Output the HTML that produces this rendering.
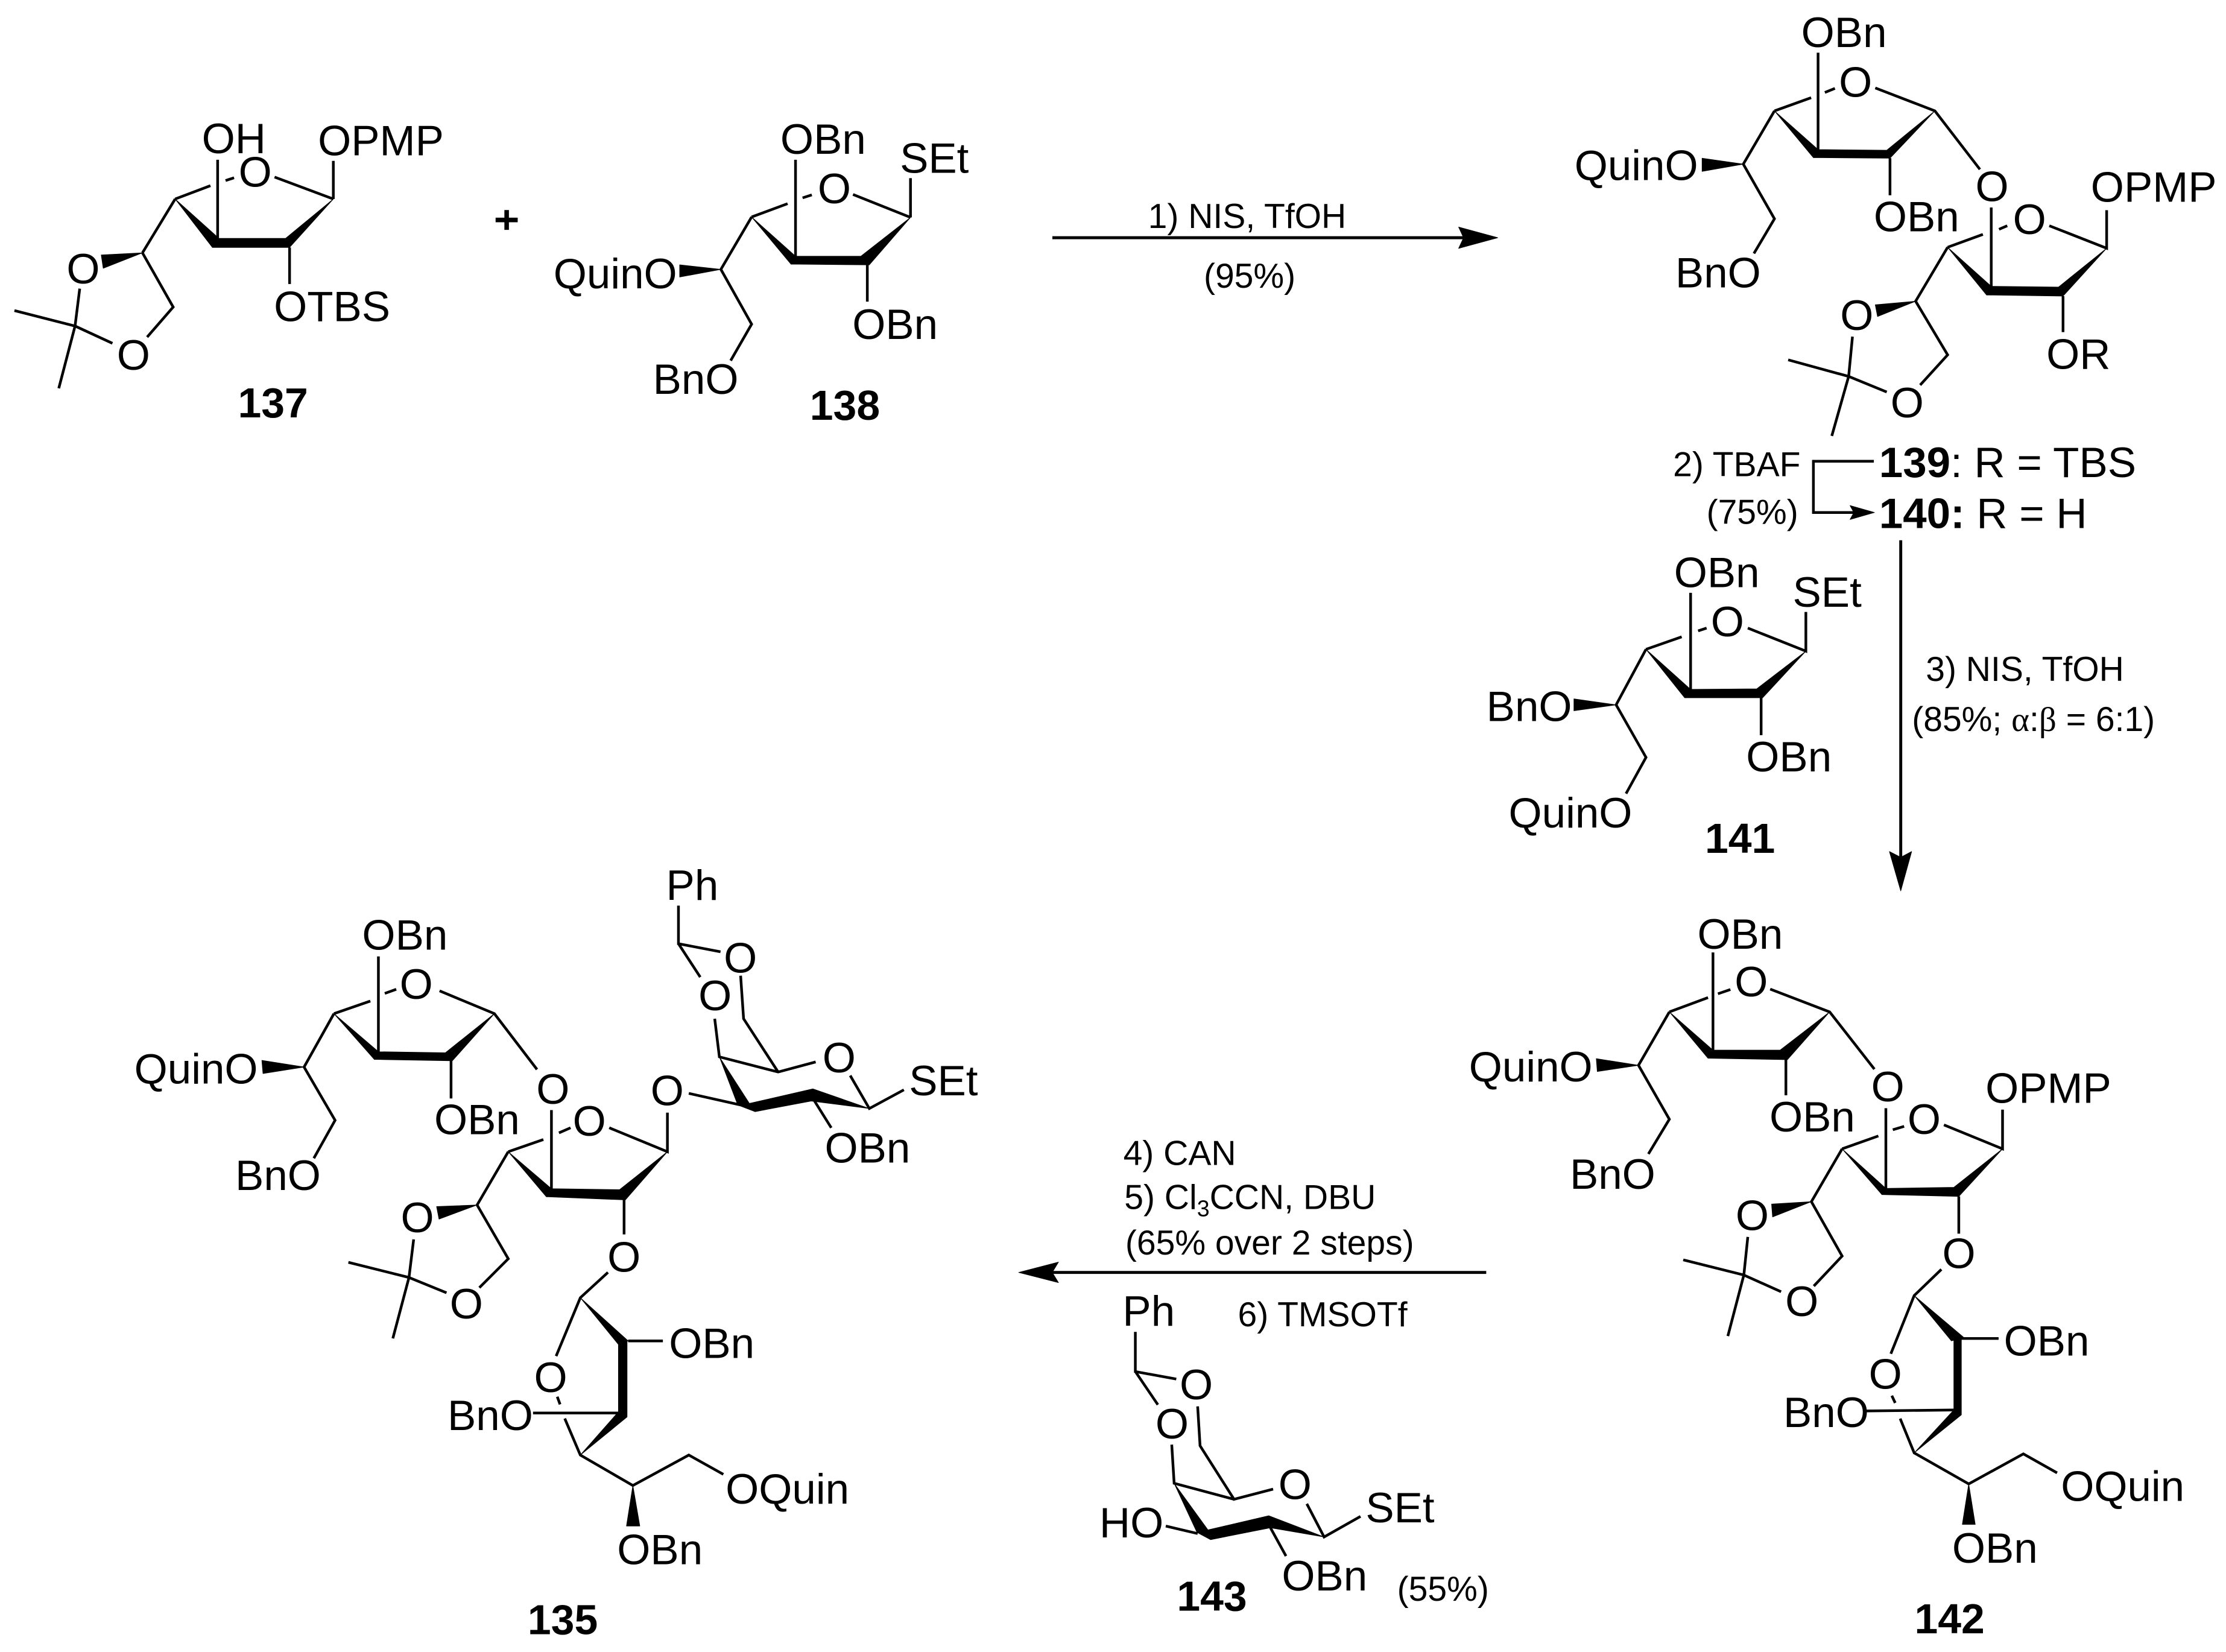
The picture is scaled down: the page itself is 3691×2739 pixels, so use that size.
<!DOCTYPE html>
<html>
<head>
<meta charset="utf-8">
<style>
html,body{margin:0;padding:0;background:#fff;width:3691px;height:2739px;overflow:hidden}
svg{display:block}
text{font-family:"Liberation Sans",Arial,sans-serif;font-size:30.2px;fill:#000;transform:translate(-.5px,.2px)}
.s{font-size:24.3px}
.b{font-weight:bold;font-size:29.7px}
.l{fill:none;stroke:#000;stroke-width:1.9}
.a{fill:none;stroke:#000;stroke-width:2.1}
.f{fill:#000;stroke:#000;stroke-width:.4;stroke-linejoin:round}
</style>
</head>
<body>
<svg xmlns="http://www.w3.org/2000/svg" width="3691" height="2739" viewBox="0 0 1564 1160.6">
<rect width="1564" height="1160.6" fill="#fff"/>

<g transform="matrix(.9949 0 0 .9949 0 .32)">
<!-- 137 -->
<path class="l" d="M235.4 113.3L235.4 140.2M193.9 124.7L235.4 140.2M123.7 140.2L148.6 130.8M159.3 127.2L165.3 125.2M153.7 112.5L153.7 168M204.5 174.4L204.5 200.2M123.7 140.2L100.6 178.2M100.6 178.2L122.3 216.5L103.9 237.7M56.3 203.5L53 229.9L79.4 242.1M10.2 219L53 229.9L41.5 273.9"/>
<path class="f" d="M235.4 140.2L201.7 168L204.5 174.4ZM154.6 168L201.7 168L204.5 174.4L150 174.4ZM123.7 140.2L154.6 168L150 174.4ZM100.6 178.2L71.5 179.7L72.9 189.1Z"/>
<text x="143" y="107.6">OH</text>
<text x="225" y="109.2">OPMP</text>
<text x="169" y="131.2">O</text>
<text x="193.9" y="226.3">OTBS</text>
<text x="47.5" y="199.7">O</text>
<text x="83" y="260.5">O</text>
<text class="b" x="168.5" y="294.3">137</text>

<!-- plus -->
<path d="M350 155H365.6M357.8 148V162" fill="none" stroke="#000" stroke-width="3.2"/>

<!-- 138 -->
<path class="l" d="M643 125.5L643 153.2M602.4 137L643 153.2M530.8 152.9L556.2 143.5M566.8 139.4L573.3 137.3M561.8 112.5L561.8 180.6M612.5 185.9L612.5 212.7M530.8 152.9L509.1 189.9L530.8 228.6L516 254.3"/>
<path class="f" d="M643 153.2L608 180.6L613.9 186.7ZM561.8 180.6L608 180.6L613.9 186.7L558.6 186.2ZM530.8 152.9L561.8 180.6L558.6 186.2ZM509.1 189.9L480 186.7L480 195.3Z"/>
<text x="551.6" y="108">OBn</text>
<text x="636" y="121.5">SEt</text>
<text x="578" y="143.1">O</text>
<text x="602.4" y="238.8">OBn</text>
<text x="391.4" y="203">QuinO</text>
<text x="461.6" y="277.6">BnO</text>
<text class="b" x="572.4" y="295.9">138</text>
</g>

<!-- arrow 1 -->
<g transform="matrix(.9949 0 0 1 3.67 0)">
<path class="a" d="M739.5 167H1032"/>
<path class="f" d="M1054 167L1026.4 159.5L1029.9 167L1026.4 174.5Z"/>
<text class="s" x="807.6" y="160">1) NIS, TfOH</text>
<text class="s" x="846.9" y="202">(95%)</text>
</g>

<!-- 139/140 -->
<g transform="matrix(.9949 0 0 .9949 6.2 .5)">
<path class="l" d="M1277.7 36.7L1277.7 105.1M1282.5 64.8L1289.6 61.9M1246.9 77.8L1272.8 68.5M1318.1 61.6L1360.2 77.8L1392 119.1M1328.5 111.2L1328.5 137.4M1246.9 77.8L1224.9 115.4L1246.9 154L1232.4 178.5M1400 146L1400 201.7M1405.5 161.4L1411.3 158.9M1369.2 174.1L1394.1 165M1441 158.9L1481.5 174.8L1481.5 147.9M1450.7 208.6L1450.7 234M1369.2 174.1L1346.6 212.2L1369.2 250.1L1349.8 271.4M1302 237.2L1299.3 265.3L1326.2 276.3M1256.6 253.6L1299.3 265.3L1287.4 307.3"/>
<path class="f" d="M1360.2 77.8L1326.2 105.6L1328.5 111.2ZM1277.7 105.1L1326.2 105.6L1328.5 111.2L1274.4 110.8ZM1246.9 77.8L1277.7 105.1L1274.4 110.8ZM1224.9 115.4L1195.8 111.2L1195.8 120.5ZM1481.5 174.8L1447.5 202.2L1450.7 208.6ZM1400 201.7L1447.5 202.2L1450.7 208.6L1396.7 207.8ZM1369.2 174.1L1400 201.7L1396.7 207.8ZM1346.6 212.2L1318.1 214.7L1319.7 223Z"/>
<text x="1266.3" y="32.5">OBn</text>
<text x="1292.9" y="67.7">O</text>
<text x="1317.5" y="162.6">OBn</text>
<text x="1106.2" y="126.4">QuinO</text>
<text x="1177.4" y="202.2">BnO</text>
<text x="1389.3" y="141.3">O</text>
<text x="1415.8" y="164.5">O</text>
<text x="1470.8" y="141.8">OPMP</text>
<text x="1439.4" y="259.7">OR</text>
<text x="1293.8" y="232.3">O</text>
<text x="1329.4" y="294.1">O</text>
<text class="s" x="1175.8" y="335.5">2) TBAF</text>
<text class="s" x="1199.4" y="369.2">(75%)</text>
<path class="l" d="M1317.1 325.2H1274.4V361.4H1304"/>
<path class="f" d="M1317.5 361.4L1300.3 356.5L1303 361.4L1300.3 366.3Z"/>
<text x="1321.3" y="336.2"><tspan font-weight="bold">139</tspan>: R = TBS</text>
<text x="1321.3" y="372.1"><tspan font-weight="bold">140:</tspan> R = H</text>
</g>

<g transform="matrix(.9949 0 0 .9949 5.19 1.9)">
<!-- arrow 3 -->
<path class="a" d="M1337.1 379.6V605"/>
<path class="f" d="M1337.1 627.2L1329.1 599.4L1337.1 603.5L1344.8 599.4Z"/>
<text class="s" x="1355.3" y="478.7">3) NIS, TfOH</text>
<text class="s" x="1345.5" y="514">(85%; <tspan font-family="Liberation Serif">α</tspan>:<tspan font-family="Liberation Serif">β</tspan> = 6:1)</text>

<!-- 141 -->
<path class="l" d="M1188.7 416.7L1188.7 484.9M1194 443.6L1200 441.6M1157.2 456.6L1182.4 447.8M1229.1 441.6L1270.1 457.9L1270.1 430.2M1238.5 490.8L1238.5 517.2M1157.2 456.6L1136.1 495.8L1157.2 532.9L1143.1 558.5"/>
<path class="f" d="M1270.1 457.9L1235.4 484.5L1239.6 490.8ZM1188.7 484.9L1235.4 484.5L1239.6 490.8L1184.5 490.8ZM1157.2 456.6L1188.7 484.9L1184.5 490.8ZM1136.1 495.8L1106.3 491.6L1106.3 500Z"/>
<text x="1177.5" y="412.5">OBn</text>
<text x="1203.5" y="447.3">O</text>
<text x="1261.3" y="426.3">SEt</text>
<text x="1228.4" y="542.6">OBn</text>
<text x="1045" y="507.1">BnO</text>
<text x="1060.7" y="582.2">QuinO</text>
<text class="b" x="1199.3" y="600.2">141</text>
</g>

<!-- 142 -->
<g transform="matrix(.9949 0 0 .9949 5.19 3.24)">
<path class="l" d="M1204.5 669.3L1204.5 738.3M1208 698.5L1216.8 695.5M1173.7 711.3L1201 701.2M1244.9 695.2L1286.9 711.3L1318.5 751.7M1256 745L1256 770.2M1173.7 711.3L1151.9 749L1173.7 787.1L1158.9 811.6M1326.6 779.3L1326.6 835.9M1331.5 794.5L1339.5 792.1M1295.7 808L1321.3 798.9M1367.6 791.1L1409 808L1409 780.3M1378.1 841.6L1378.1 867.9M1295.7 808L1274 845.3L1295.7 883.7L1275.7 904.9M1229.1 870.2L1226.3 897.1L1252.6 908.9M1183.5 886.4L1226.3 897.1L1215 940.2M1365.8 893.1L1346.6 911.6L1330.1 952.7M1378.1 941.9L1406.2 941.9M1330.8 982.3L1333.2 987.4M1336.7 998.5L1346.6 1022.7L1385.1 1044.6L1423.7 1023.4L1447.5 1036.8M1311.5 993.1L1374.6 992.4"/>
<path class="f" d="M1286.9 711.3L1251.9 738.3L1257.1 745ZM1204.5 738.3L1251.9 738.3L1257.1 745L1201 744ZM1173.7 711.3L1204.5 738.3L1201 744ZM1151.9 749L1122.1 744.3L1122.8 753.4ZM1409 808L1374.6 835.2L1378.1 841.6ZM1326.6 835.9L1374.6 835.2L1378.1 841.6L1323.8 840.3ZM1295.7 808L1326.6 835.9L1323.8 840.3ZM1274 845.3L1245.9 847L1246.6 856.1ZM1346.6 911.6L1381.6 941.2L1372.9 943.6ZM1374.6 942.6L1379.9 942.6L1379.9 995.8L1374.6 992.4ZM1346.6 1022.7L1374.6 992.4L1379.9 995.8ZM1385.1 1044.6L1380.6 1073.2L1389.7 1073.2Z"/>
<text x="1194" y="666.6">OBn</text>
<text x="1220.3" y="700.2">O</text>
<text x="1244.9" y="795.5">OBn</text>
<text x="1032.7" y="760.1">QuinO</text>
<text x="1103.9" y="835.9">BnO</text>
<text x="1316.7" y="774.3">O</text>
<text x="1342.4" y="797.2">O</text>
<text x="1397.4" y="775.3">OPMP</text>
<text x="1366.9" y="892.1">O</text>
<text x="1221" y="865.2">O</text>
<text x="1256" y="925.8">O</text>
<text x="1410.4" y="953.7">OBn</text>
<text x="1315" y="977.3">O</text>
<text x="1254.7" y="1004.2">BnO</text>
<text x="1450.7" y="1056.4">OQuin</text>
<text x="1373.9" y="1100.1">OBn</text>
<text class="b" x="1347.3" y="1149.9">142</text>
</g>

<g transform="matrix(.9949 0 0 .9949 3.57 4)">
<!-- arrow 4-6 -->
<path class="a" d="M1046 894.5H738"/>
<path class="f" d="M715.8 894.5L743.9 887.2L739.5 894.5L743.9 901.7Z"/>
<text class="s" x="790.2" y="818.4">4) CAN</text>
<text class="s" x="790.9" y="849.6">5) Cl<tspan font-size="16" dy="5">3</tspan><tspan dy="-5">CCN, DBU</tspan></text>
<text class="s" x="791.6" y="881.7">(65% over 2 steps)</text>
<text class="s" x="871.1" y="932.4">6) TMSOTf</text>

<!-- 143 -->
<path class="l" d="M798.2 936.5L798.2 964.5L827.1 969.8M798.2 964.5L814.1 987.9M842.2 989.1L843.9 1016.9L867.9 1054.7L895.5 1047.5M919.3 1057.9L931.5 1081.3L957.2 1066.8M823.9 1016.1L825.6 1043.4L867.9 1054.7M893.6 1074.8L904.6 1094.8M819.7 1073.6L842.2 1078.9"/>
<path class="f" d="M825.6 1043.4L841.7 1078L851.3 1083.2L849.6 1076.5ZM848.8 1076.5L851.3 1083.2L893.6 1074.8L892.4 1066.3ZM931.5 1081.3L892.4 1066.3L893.6 1074.8Z"/>
<text x="789.7" y="931.9">Ph</text>
<text x="830" y="983.8">O</text>
<text x="812.9" y="1011.5">O</text>
<text x="899.7" y="1054.3">O</text>
<text x="961.3" y="1070.7">SEt</text>
<text x="902.1" y="1119">OBn</text>
<text x="773.3" y="1081.5">HO</text>
<text class="b" x="828" y="1133.2">143</text>
<text class="s" x="983.6" y="1126.2">(55%)</text>
</g>

<!-- 135 -->
<g transform="matrix(.9949 0 0 .9949 .43 3.07)">
<path class="l" d="M478.7 636.4L478.7 663.3L508.4 669M478.7 663.3L494.1 686.9M504.3 716.3L507.6 743.2L549.1 753.9L575.6 746.8M522.6 685.9L524.7 716.3L549.1 753.9M600 756.4L613.5 779.7L637.9 766.5M486 769L522.6 777.2M574.8 774.4L586.6 793.3M266.8 672.3L266.8 739.6M271.3 698.4L279.4 695.5M235.4 712.7L261.1 703.8M310 696.6L348.7 712.7L378.8 752.1M318.1 746L318.1 772.6M235.4 712.7L214.3 750.4L236.2 788L221.2 814.8M389 780.8L389 836.3M394.3 796.9L402.5 793.3M358.5 810.2L383.3 801.6M429.8 793.3L470.9 810.2L470.9 782.6M440.3 844.2L440.3 868.6M358.5 810.2L336.5 847.8L358.5 885.8L338.1 906.2M291.7 872.1L288.4 899L314.9 909.8M245.6 888.3L288.4 899L277 942M428.9 895.4L409.4 913.3L392.3 954.5M443.2 943.8L467.7 943.8M393.1 983.2L395.1 988.6M398.4 998.6L409.4 1024.4L446.5 1045.9L486 1024.4L510.4 1038M376 994.7L436.3 994.7"/>
<path class="f" d="M613.5 779.7L573.6 765.8L572.4 774.4ZM573.6 765.8L572.4 774.4L532.8 781.9L528.8 776.1ZM507.6 743.2L520.6 777.2L532.8 781.9L528.8 776.1ZM348.7 712.7L314.1 740.3L319 746ZM266.8 739.6L314.1 740.3L319 746L263.9 745ZM235.4 712.7L266.8 739.6L263.9 745ZM214.3 750.4L184.5 745.7L185.3 755ZM470.9 810.2L437.1 837L441.2 844.2ZM389 836.3L437.1 837L441.2 844.2L385.4 842ZM358.5 810.2L389 836.3L385.4 842ZM336.5 847.8L307.9 848.9L309.6 857.8ZM409.4 913.3L443.2 943.8L436.3 946.3ZM436.3 946.3L442.4 943.8L442.4 997.5L436.3 993.9ZM409.4 1024.4L436.3 993.9L442.4 997.5ZM446.5 1045.9L442 1074.5L451.4 1074.5Z"/>
<text x="470.5" y="632.1">Ph</text>
<text x="511.2" y="683.4">O</text>
<text x="493.3" y="710.2">O</text>
<text x="580.9" y="753.9">O</text>
<text x="642" y="770.1">SEt</text>
<text x="459.5" y="777.2">O</text>
<text x="582.5" y="817.7">OBn</text>
<text x="255.8" y="667.3">OBn</text>
<text x="282.3" y="702">O</text>
<text x="306.7" y="797.6">OBn</text>
<text x="94.9" y="761.8">QuinO</text>
<text x="166.2" y="837">BnO</text>
<text x="378.8" y="776.1">O</text>
<text x="404.5" y="798.7">O</text>
<text x="429" y="894.7">O</text>
<text x="283.1" y="866.8">O</text>
<text x="317.7" y="927.7">O</text>
<text x="472.5" y="955.6">OBn</text>
<text x="377.2" y="979.6">O</text>
<text x="316.1" y="1006.5">BnO</text>
<text x="512.5" y="1058.4">OQuin</text>
<text x="435.9" y="1101.4">OBn</text>
<text class="b" x="372.7" y="1150.8">135</text>
</g>
</svg>
</body>
</html>
